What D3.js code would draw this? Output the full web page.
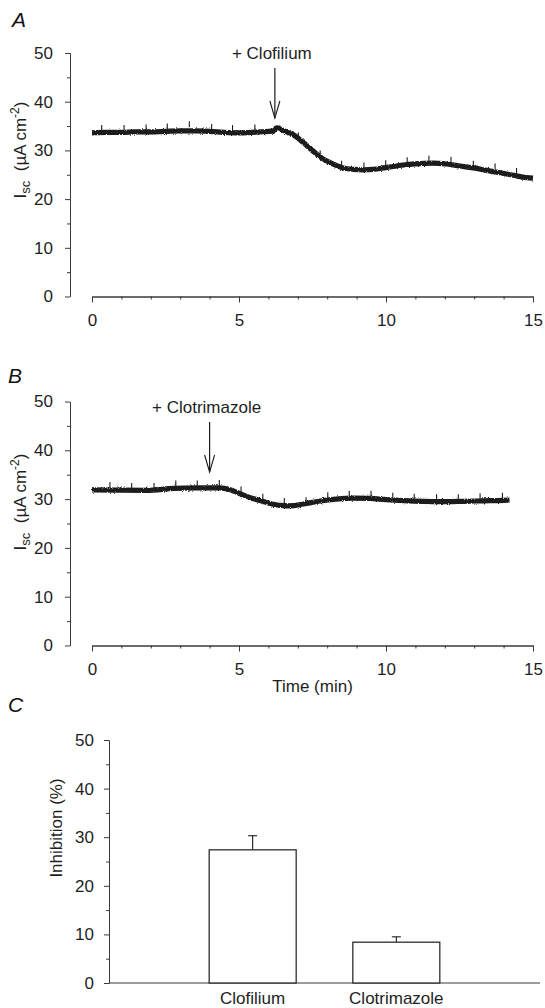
<!DOCTYPE html>
<html>
<head>
<meta charset="utf-8">
<script src="https://cdn.jsdelivr.net/npm/d3@7"></script>
<style>
  body { margin: 0; background: #fff; }
  svg { display: block; font-family: "Liberation Sans", Arial, Helvetica, sans-serif; }
</style>
</head>
<body>
<svg id="chart" width="545" height="1008"></svg>
<script>
// --- DATA ---
// panel A: Isc trace, clofilium added at ~6.2 min  [time (min), Isc (µA cm-2)]
const traceA = [
  [0.0, 33.6], [0.5, 33.7], [1.0, 33.7], [1.5, 33.8], [2.0, 33.8], [2.5, 33.9],
  [3.0, 34.0], [3.5, 34.0], [4.0, 33.9], [4.5, 33.7], [5.0, 33.6], [5.4, 33.7],
  [5.7, 33.8], [6.0, 33.9], [6.17, 34.0], [6.3, 34.7], [6.5, 34.1], [6.85, 33.2],
  [7.19, 31.6], [7.53, 29.8], [7.87, 28.2], [8.21, 27.2], [8.55, 26.4], [8.89, 26.1],
  [9.23, 26.0], [9.57, 26.1], [9.91, 26.4], [10.25, 26.7], [10.7, 27.1], [11.16, 27.3],
  [11.61, 27.4], [12.06, 27.2], [12.52, 26.8], [12.97, 26.4], [13.42, 25.9], [13.88, 25.4],
  [14.33, 24.9], [14.78, 24.4], [15.0, 24.3]
];
// small periodic spikes on trace A  [time, top value]
const spikesA = [
  [0.33, 35.2], [1.09, 35.2], [1.84, 35.3], [2.56, 35.5], [3.31, 36.0], [4.07, 35.4],
  [4.78, 35.2], [5.54, 35.3], [7.02, 33.7], [7.76, 30.0], [8.49, 27.9], [9.25, 27.5],
  [9.99, 28.0], [10.72, 28.6], [11.46, 28.9], [12.21, 28.7], [12.97, 27.9], [13.71, 27.3],
  [14.44, 26.4]
];

// panel B: Isc trace, clotrimazole added at ~4 min
const traceB = [
  [0.0, 31.9], [0.74, 31.85], [1.87, 31.8], [2.78, 32.2], [3.57, 32.3], [4.36, 32.3],
  [4.7, 31.9], [5.04, 31.1], [5.38, 30.3], [5.72, 29.7], [6.06, 29.1], [6.4, 28.7],
  [6.74, 28.6], [7.19, 29.0], [7.76, 29.6], [8.3, 30.0], [8.9, 30.2], [9.46, 30.15],
  [10.0, 29.9], [10.6, 29.7], [11.25, 29.55], [11.93, 29.5], [12.6, 29.55], [13.3, 29.65],
  [14.0, 29.75], [14.2, 29.8]
];
const spikesB = [
  [0.61, 33.5], [1.35, 33.3], [2.11, 33.3], [2.85, 33.8], [3.58, 33.8], [4.33, 33.9],
  [5.07, 32.6], [5.81, 31.1], [6.54, 30.2], [7.28, 30.4], [8.02, 31.4], [8.75, 31.7],
  [9.49, 31.7], [10.23, 31.3], [10.96, 31.1], [11.72, 31.0], [12.46, 31.0], [13.2, 31.2],
  [13.96, 31.3]
];

// drug additions
const drugLabels = ["+ Clofilium", "+ Clotrimazole"];
const drugTimes = [6.22, 4.0];

// panel C: mean inhibition with SEM
const drugs = ["Clofilium", "Clotrimazole"];
const inhibition = [27.4, 8.4];
const inhibitionErr = [2.9, 1.1];

// ticks
const yMajor = [0, 10, 20, 30, 40, 50];
const yMinor = [5, 15, 25, 35, 45];
const xMajor = [0, 5, 10, 15];
const xMinor = [1, 2, 3, 4, 6, 7, 8, 9, 11, 12, 13, 14];

// --- LAYOUT ---
const svg = d3.select('#chart');
const ink = '#1c1c1c';
const axisInk = '#3a3a3a';
const fontSize = 17;

// rough edge filter so the traces look like a noisy recording
const defs = svg.append('defs');
const f = defs.append('filter').attr('id', 'rough').attr('x', '-5%').attr('y', '-50%').attr('width', '110%').attr('height', '200%');
f.append('feTurbulence').attr('type', 'fractalNoise').attr('baseFrequency', '1.3').attr('numOctaves', 1).attr('seed', 3).attr('result', 'n');
f.append('feDisplacementMap').attr('in', 'SourceGraphic').attr('in2', 'n').attr('scale', 3).attr('xChannelSelector', 'R').attr('yChannelSelector', 'G');

const x = d3.scaleLinear().domain([0, 15]).range([92, 533]);

function styleAxis(g) {
  g.attr('font-size', null).attr('font-family', null);
  g.selectAll('path, line').attr('stroke', axisInk).attr('stroke-width', 1);
  g.selectAll('text').attr('fill', '#1e1e1e').style('font-size', fontSize + 'px');
}

function drawYAxis(y, xPos, pad) {
  svg.append('g').attr('transform', `translate(${xPos},0)`)
    .call(d3.axisLeft(y).tickValues(yMinor).tickSize(3).tickSizeOuter(0).tickFormat(''))
    .call(styleAxis);
  svg.append('g').attr('transform', `translate(${xPos},0)`)
    .call(d3.axisLeft(y).tickValues(yMajor).tickSize(5).tickSizeOuter(0).tickPadding(pad))
    .call(styleAxis);
}

function drawXAxis(yPos) {
  svg.append('g').attr('transform', `translate(0,${yPos})`)
    .call(d3.axisBottom(x).tickValues(xMinor).tickSize(3).tickSizeOuter(0).tickFormat(''))
    .call(styleAxis);
  svg.append('g').attr('transform', `translate(0,${yPos})`)
    .call(d3.axisBottom(x).tickValues(xMajor).tickSize(6).tickSizeOuter(0).tickPadding(11))
    .call(styleAxis);
}

function panelLetter(txt, px, py) {
  svg.append('text').attr('x', px).attr('y', py).text(txt)
    .attr('font-size', 21).attr('font-style', 'italic').attr('fill', '#111');
}

function iscLabel(cx, cy) {
  const t = svg.append('text')
    .attr('transform', `translate(${cx},${cy}) rotate(-90)`)
    .attr('text-anchor', 'middle')
    .attr('font-size', fontSize).attr('fill', '#1e1e1e');
  t.append('tspan').text('I');
  t.append('tspan').text('sc').attr('font-size', 13).attr('dy', 4);
  t.append('tspan').text('\u00a0\u00a0(\u00b5A cm').attr('dy', -4);
  t.append('tspan').text('-2').attr('font-size', 12).attr('dy', -7);
  t.append('tspan').text(')').attr('dy', 7);
}

function drawTrace(y, trace, spikes, drugIdx, arrowTop, arrowTip, labelY) {
  const line = d3.line().x(d => x(d[0])).y(d => y(d[1])).curve(d3.curveMonotoneX);

  // spikes sit just under the thick trace and poke out above it
  svg.append('g').selectAll('line').data(spikes).join('line')
    .attr('x1', d => x(d[0])).attr('x2', d => x(d[0]))
    .attr('y1', d => y(d[1])).attr('y2', d => y(d[1]) + 6)
    .attr('stroke', ink).attr('stroke-width', 1.1);

  svg.append('path').datum(trace)
    .attr('d', line)
    .attr('fill', 'none').attr('stroke', ink)
    .attr('stroke-width', 5.2).attr('stroke-linejoin', 'round').attr('stroke-linecap', 'butt')
    .attr('filter', 'url(#rough)');

  // drug arrow
  const ax = x(drugTimes[drugIdx]);
  svg.append('line').attr('x1', ax).attr('x2', ax).attr('y1', arrowTop).attr('y2', arrowTip)
    .attr('stroke', ink).attr('stroke-width', 1.2);
  svg.append('path')
    .attr('d', `M${ax - 5},${arrowTip - 17}L${ax},${arrowTip}L${ax + 5},${arrowTip - 17}`)
    .attr('fill', 'none').attr('stroke', ink).attr('stroke-width', 1.1);
  svg.append('text').attr('x', ax - 3).attr('y', labelY).attr('text-anchor', 'middle')
    .attr('font-size', fontSize).attr('fill', '#1e1e1e').text(drugLabels[drugIdx]);
}

// --- PANEL A ---
const yA = d3.scaleLinear().domain([0, 50]).range([296.5, 53]);
panelLetter('A', 12, 27);
drawYAxis(yA, 70, 12);
drawXAxis(296.5);
iscLabel(26, 150);
drawTrace(yA, traceA, spikesA, 0, 68, 118, 59);

// --- PANEL B ---
const yB = d3.scaleLinear().domain([0, 50]).range([645.5, 401.5]);
panelLetter('B', 8, 383);
drawYAxis(yB, 70, 12);
drawXAxis(645.5);
iscLabel(26, 502);
drawTrace(yB, traceB, spikesB, 1, 422, 472, 413);
svg.append('text').attr('x', (x(0) + x(15)) / 2).attr('y', 692).attr('text-anchor', 'middle')
  .attr('font-size', fontSize).attr('fill', '#1e1e1e').text('Time (min)');

// --- PANEL C ---
const yC = d3.scaleLinear().domain([0, 50]).range([983, 740]);
const xC = d3.scalePoint().domain(drugs).range([109, 540]).padding(1);
const barW = 87;
panelLetter('C', 8, 712);
drawYAxis(yC, 109, 10);
svg.append('line').attr('x1', 109).attr('x2', 540).attr('y1', yC(0)).attr('y2', yC(0))
  .attr('stroke', axisInk).attr('stroke-width', 1);

const bars = svg.append('g').selectAll('g').data(drugs).join('g');
bars.append('line')
  .attr('x1', d => xC(d)).attr('x2', d => xC(d))
  .attr('y1', (d, i) => yC(inhibition[i])).attr('y2', (d, i) => yC(inhibition[i] + inhibitionErr[i]))
  .attr('stroke', ink).attr('stroke-width', 1.1);
bars.append('line')
  .attr('x1', d => xC(d) - 4.5).attr('x2', d => xC(d) + 4.5)
  .attr('y1', (d, i) => yC(inhibition[i] + inhibitionErr[i])).attr('y2', (d, i) => yC(inhibition[i] + inhibitionErr[i]))
  .attr('stroke', ink).attr('stroke-width', 1.1);
bars.append('rect')
  .attr('x', d => xC(d) - barW / 2).attr('width', barW)
  .attr('y', (d, i) => yC(inhibition[i])).attr('height', (d, i) => yC(0) - yC(inhibition[i]))
  .attr('fill', '#fff').attr('stroke', ink).attr('stroke-width', 1.2);
bars.append('text')
  .attr('x', d => xC(d)).attr('y', yC(0) + 21).attr('text-anchor', 'middle')
  .attr('font-size', fontSize).attr('fill', '#1e1e1e').text(d => d);

svg.append('text')
  .attr('transform', `translate(62,828) rotate(-90)`)
  .attr('text-anchor', 'middle').attr('font-size', fontSize).attr('fill', '#1e1e1e')
  .text('Inhibition (%)');
</script>
</body>
</html>
